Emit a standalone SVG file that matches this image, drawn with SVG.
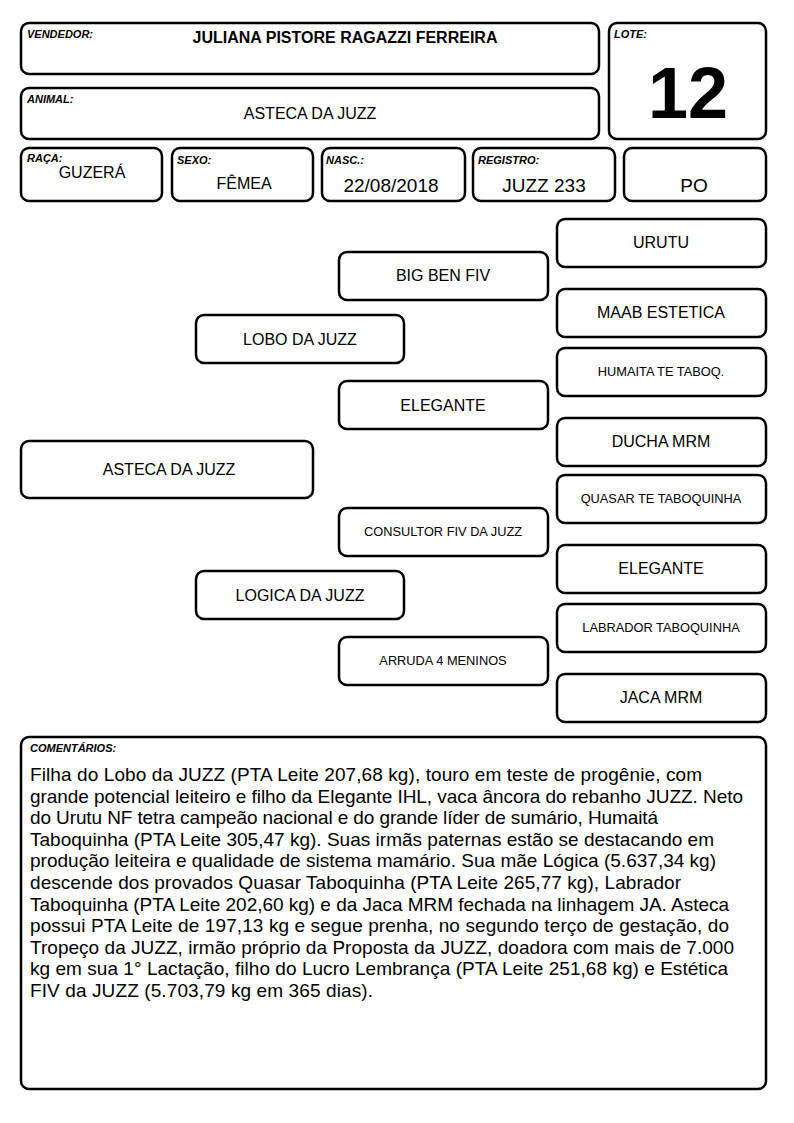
<svg xmlns="http://www.w3.org/2000/svg" width="794" height="1123" viewBox="0 0 794 1123">
<style>
.b{fill:#fff;stroke:#000;stroke-width:2.5}
.lb{font-family:"Liberation Sans",Arial,sans-serif;font-size:11px;font-weight:bold;font-style:italic;fill:#000}
.t{font-family:"Liberation Sans",Arial,sans-serif;font-size:16px;fill:#000;text-anchor:middle}
.s{font-family:"Liberation Sans",Arial,sans-serif;font-size:12.8px;fill:#000;text-anchor:middle}
.v{font-family:"Liberation Sans",Arial,sans-serif;font-size:19px;fill:#000;text-anchor:middle}
.c{font-family:"Liberation Sans",Arial,sans-serif;font-size:19px;fill:#000}
</style>
<rect width="794" height="1123" fill="#fff"/>
<g id="vendedor"><rect class="b" x="21" y="23" width="578" height="51" rx="8"/><text class="lb" x="27" y="38">VENDEDOR:</text><text class="t" x="345" y="43" font-weight="bold">JULIANA PISTORE RAGAZZI FERREIRA</text></g>
<g id="animal"><rect class="b" x="21" y="88" width="578" height="51" rx="8"/><text class="lb" x="27" y="103">ANIMAL:</text><text class="t" x="310" y="119">ASTECA DA JUZZ</text></g>
<g id="lote"><rect class="b" x="609" y="23" width="157" height="116" rx="8"/><text class="lb" x="614" y="38">LOTE:</text><text x="688" y="118" font-family="'Liberation Sans',Arial,sans-serif" font-size="72" font-weight="bold" text-anchor="middle">12</text></g>
<g id="raca"><rect class="b" x="21" y="148" width="141" height="53" rx="8"/><text class="lb" x="27" y="162">RAÇA:</text><text class="t" x="92" y="178">GUZERÁ</text></g>
<g id="sexo"><rect class="b" x="172" y="148" width="141" height="53" rx="8"/><text class="lb" x="177" y="164">SEXO:</text><text class="t" x="244" y="189">FÊMEA</text></g>
<g id="nasc"><rect class="b" x="322" y="148" width="143" height="53" rx="8"/><text class="lb" x="326" y="164">NASC.:</text><text class="v" x="391" y="192">22/08/2018</text></g>
<g id="registro"><rect class="b" x="473" y="148" width="142" height="53" rx="8"/><text class="lb" x="478" y="164">REGISTRO:</text><text class="v" x="544" y="192">JUZZ 233</text></g>
<g id="po"><rect class="b" x="624" y="148" width="142" height="53" rx="8"/><text class="v" x="694" y="192">PO</text></g>
<g id="connectors"></g>
<g id="urutu"><rect class="b" x="557" y="219" width="209" height="48" rx="8"/><text class="t" x="661" y="248">URUTU</text></g>
<g id="bigben"><rect class="b" x="339" y="252" width="209" height="48" rx="8"/><text class="t" x="443" y="281">BIG BEN FIV</text></g>
<g id="maab"><rect class="b" x="557" y="289" width="209" height="48" rx="8"/><text class="t" x="661" y="318">MAAB ESTETICA</text></g>
<g id="lobo"><rect class="b" x="196" y="315" width="208" height="48" rx="8"/><text class="t" x="300" y="345">LOBO DA JUZZ</text></g>
<g id="humaita"><rect class="b" x="557" y="348" width="209" height="48" rx="8"/><text class="s" x="661" y="376">HUMAITA TE TABOQ.</text></g>
<g id="elegante1"><rect class="b" x="339" y="381" width="209" height="48" rx="8"/><text class="t" x="443" y="411">ELEGANTE</text></g>
<g id="ducha"><rect class="b" x="557" y="418" width="209" height="48" rx="8"/><text class="t" x="661" y="447">DUCHA MRM</text></g>
<g id="asteca"><rect class="b" x="21" y="441" width="292" height="57" rx="8"/><text class="t" x="169" y="475">ASTECA DA JUZZ</text></g>
<g id="quasar"><rect class="b" x="557" y="475" width="209" height="48" rx="8"/><text class="s" x="661" y="503">QUASAR TE TABOQUINHA</text></g>
<g id="consultor"><rect class="b" x="339" y="508" width="209" height="48" rx="8"/><text class="s" x="443" y="536">CONSULTOR FIV DA JUZZ</text></g>
<g id="elegante2"><rect class="b" x="557" y="545" width="209" height="48" rx="8"/><text class="t" x="661" y="574">ELEGANTE</text></g>
<g id="logica"><rect class="b" x="196" y="571" width="208" height="48" rx="8"/><text class="t" x="300" y="601">LOGICA DA JUZZ</text></g>
<g id="labrador"><rect class="b" x="557" y="604" width="209" height="48" rx="8"/><text class="s" x="661" y="632">LABRADOR TABOQUINHA</text></g>
<g id="arruda"><rect class="b" x="339" y="637" width="209" height="48" rx="8"/><text class="s" x="443" y="665">ARRUDA 4 MENINOS</text></g>
<g id="jaca"><rect class="b" x="557" y="674" width="209" height="48" rx="8"/><text class="t" x="661" y="703">JACA MRM</text></g>
<g id="comentarios"><rect class="b" x="21" y="737" width="745" height="352" rx="8"/><text class="lb" x="30" y="752">COMENTÁRIOS:</text>
<text class="c" x="30" y="781" textLength="672" lengthAdjust="spacing">Filha do Lobo da JUZZ (PTA Leite 207,68 kg), touro em teste de progênie, com</text>
<text class="c" x="30" y="802.6" textLength="713" lengthAdjust="spacing">grande potencial leiteiro e filho da Elegante IHL, vaca âncora do rebanho JUZZ. Neto</text>
<text class="c" x="30" y="824.2" textLength="628" lengthAdjust="spacing">do Urutu NF tetra campeão nacional e do grande líder de sumário, Humaitá</text>
<text class="c" x="30" y="845.8" textLength="684" lengthAdjust="spacing">Taboquinha (PTA Leite 305,47 kg). Suas irmãs paternas estão se destacando em</text>
<text class="c" x="30" y="867.4" textLength="686" lengthAdjust="spacing">produção leiteira e qualidade de sistema mamário. Sua mãe Lógica (5.637,34 kg)</text>
<text class="c" x="30" y="889" textLength="651" lengthAdjust="spacing">descende dos provados Quasar Taboquinha (PTA Leite 265,77 kg), Labrador</text>
<text class="c" x="30" y="910.6" textLength="699" lengthAdjust="spacing">Taboquinha (PTA Leite 202,60 kg) e da Jaca MRM fechada na linhagem JA. Asteca</text>
<text class="c" x="30" y="932.2" textLength="699" lengthAdjust="spacing">possui PTA Leite de 197,13 kg e segue prenha, no segundo terço de gestação, do</text>
<text class="c" x="30" y="953.8" textLength="704" lengthAdjust="spacing">Tropeço da JUZZ, irmão próprio da Proposta da JUZZ, doadora com mais de 7.000</text>
<text class="c" x="30" y="975.4" textLength="698" lengthAdjust="spacing">kg em sua 1° Lactação, filho do Lucro Lembrança (PTA Leite 251,68 kg) e Estética</text>
<text class="c" x="30" y="997" textLength="343" lengthAdjust="spacing">FIV da JUZZ (5.703,79 kg em 365 dias).</text>
</g>
</svg>
